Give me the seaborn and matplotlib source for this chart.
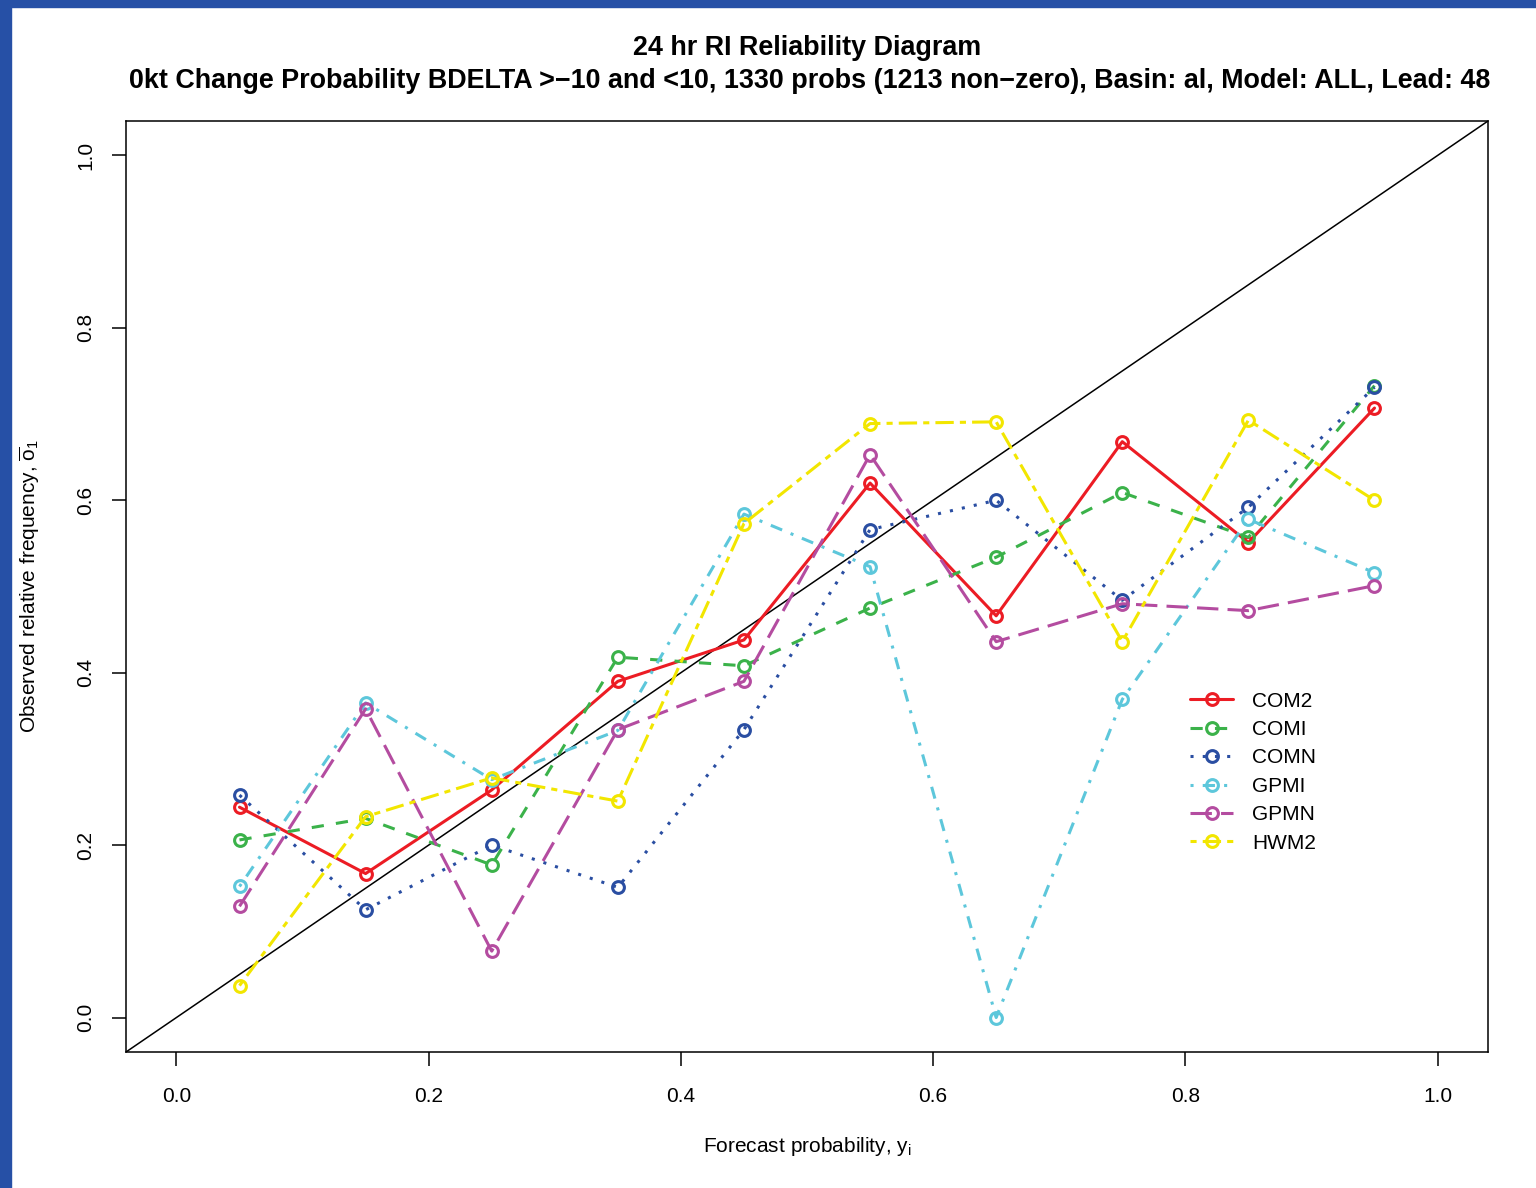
import numpy as np
import pandas as pd
import matplotlib
matplotlib.use("Agg")
import matplotlib.pyplot as plt
import seaborn as sns
from matplotlib.patches import Rectangle
from matplotlib.lines import Line2D

# ---------------- data ----------------
prob = [0.05, 0.15, 0.25, 0.35, 0.45, 0.55, 0.65, 0.75, 0.85, 0.95]
models = ["COM2", "COMI", "COMN", "GPMI", "GPMN", "HWM2"]
com2 = [0.244, 0.167, 0.264, 0.390, 0.438, 0.620, 0.466, 0.668, 0.551, 0.707]
comi = [0.206, 0.231, 0.177, 0.418, 0.408, 0.475, 0.534, 0.609, 0.557, 0.733]
comn = [0.258, 0.125, 0.200, 0.151, 0.334, 0.566, 0.600, 0.484, 0.592, 0.731]
gpmi = [0.152, 0.365, 0.276, 0.333, 0.584, 0.523, 0.000, 0.369, 0.578, 0.516]
gpmn = [0.129, 0.358, 0.077, 0.334, 0.390, 0.653, 0.436, 0.480, 0.472, 0.501]
hwm2 = [0.037, 0.233, 0.278, 0.251, 0.573, 0.689, 0.691, 0.436, 0.693, 0.600]
series = [com2, comi, comn, gpmi, gpmn, hwm2]
x_ticks = [0.0, 0.2, 0.4, 0.6, 0.8, 1.0]
y_ticks = [0.0, 0.2, 0.4, 0.6, 0.8, 1.0]

title1 = "24 hr RI Reliability Diagram"
title2 = ("0kt Change Probability BDELTA >\u221210 and <10, 1330 probs (1213 non\u2212zero), "
          "Basin: al, Model: ALL, Lead: 48")

# ---------------- style ----------------
colors = ["#EC1C24", "#3BB24A", "#2A4EA2", "#5DC7DB", "#B44CA0", "#F2E600"]
linestyles = [
    "-",
    (0, (4, 4)),
    (0, (1, 3)),
    (0, (1, 3, 4, 3)),
    (0, (7, 3)),
    (0, (2, 2, 6, 2)),
]

sns.set_theme(style="white")
plt.rcParams["font.family"] = ["Liberation Sans", "DejaVu Sans"]
plt.rcParams["text.color"] = "black"
plt.rcParams["mathtext.fontset"] = "custom"
plt.rcParams["mathtext.rm"] = "Liberation Sans"
plt.rcParams["mathtext.it"] = "Liberation Sans:italic"
plt.rcParams["mathtext.bf"] = "Liberation Sans:bold"

fig = plt.figure(figsize=(15.36, 11.88), dpi=100)
fig.patch.set_facecolor("white")
ax = fig.add_axes([126 / 1536, 1 - 1052 / 1188, (1488 - 126) / 1536, (1052 - 121) / 1188])

lw = 2.2
ms = 8.5
for name, vals, c, ls in zip(models, series, colors, linestyles):
    df = pd.DataFrame({"prob": prob, "freq": vals})
    sns.lineplot(data=df, x="prob", y="freq", ax=ax, color=c, linestyle=ls,
                 linewidth=lw, marker="o", markersize=ms, mfc="none", mec=c,
                 mew=2.2, legend=False, zorder=3)

ax.axline((0, 0), slope=1, color="black", linewidth=1.1, zorder=2)

ax.set_xlim(-0.04, 1.04)
ax.set_ylim(-0.04, 1.04)
ax.set_xticks(x_ticks)
ax.set_yticks(y_ticks)
ax.set_xticklabels([f"{v:.1f}" for v in x_ticks])
ax.set_yticklabels([f"{v:.1f}" for v in y_ticks], rotation=90, va="center")
ax.tick_params(axis="both", direction="out", length=10, width=1.1, color="black",
               labelsize=15, labelcolor="black", bottom=True, left=True)
ax.tick_params(axis="x", pad=15)
ax.tick_params(axis="y", pad=12)
for sp in ax.spines.values():
    sp.set_visible(True)
    sp.set_color("black")
    sp.set_linewidth(1.1)
ax.grid(False)
ax.set_xlabel("")
ax.set_ylabel("")

fig.text(807 / 1536, 1 - 1146 / 1188, r"Forecast probability, $\mathrm{y}_{\mathrm{i}}$",
         ha="center", va="center", fontsize=15)
fig.text(30 / 1536, 1 - 586 / 1188, r"Observed relative frequency, $\overline{\mathrm{o}}_{1}$",
         ha="center", va="center", rotation=90, fontsize=15)

fig.text(807 / 1536, 1 - 48 / 1188, title1, ha="center", va="center",
         fontsize=19.4, fontweight="bold")
fig.text(810 / 1536, 1 - 81 / 1188, title2, ha="center", va="center",
         fontsize=19.4, fontweight="bold")

# legend
handles = [Line2D([0], [0], color=c, linestyle=ls, linewidth=lw, marker="o",
                  markersize=ms, mfc="none", mec=c, mew=2.2)
           for c, ls in zip(colors, linestyles)]
leg = ax.legend(handles, models, loc="upper left", bbox_to_anchor=(0.781, 0.387),
                frameon=False, fontsize=15, handlelength=2.1, handletextpad=0.9,
                labelspacing=0.45, borderpad=0, borderaxespad=0, numpoints=1)

# blue frame on top and left edges
fig.patches.append(Rectangle((0, 1 - 7 / 1188), 1, 7 / 1188, transform=fig.transFigure,
                             color="#2650A6", zorder=10))
fig.patches.append(Rectangle((0, 0), 11 / 1536, 1, transform=fig.transFigure,
                             color="#2650A6", zorder=10))

fig.savefig("out.png", dpi=100)
